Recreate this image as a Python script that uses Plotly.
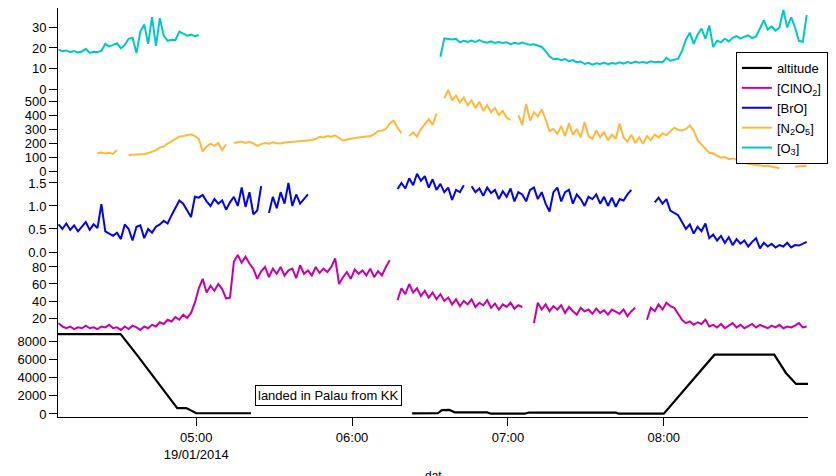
import pandas as pd
import plotly.graph_objects as go

# ---------------- data ----------------
DATE = "2014-01-19"
GRID_START = "2014-01-19 04:07:00"   # instrument samples every 90 s
GRID_STEP = "90s"

O3 = [
    19.2, 18.4, 18.8, 18.0, 18.5, 17.8, 18.3, 19.6, 17.6, 18.2,
    18.0, 18.6, 22.0, 20.8, 21.5, 22.3, 19.8, 21.5, 24.5, 25.0,
    17.5, 28.0, 31.5, 22.0, 35.0, 21.0, 34.5, 26.0, 23.5, 24.0,
    23.8, 28.0, 27.0, 26.0, 26.5, 25.8, 26.3, None, None, None,
    None, None, None, None, None, None, None, None, None, None,
    None, None, None, None, None, None, None, None, None, None,
    None, None, None, None, None, None, None, None, None, None,
    None, None, None, None, None, None, None, None, None, None,
    None, None, None, None, None, None, None, None, None, None,
    None, None, None, None, None, None, None, None, 15.7, 24.7,
    24.4, 24.1, 24.5, 22.8, 23.5, 23.0, 23.6, 22.9, 23.8, 23.0,
    22.6, 23.2, 22.5, 22.9, 22.4, 22.8, 21.9, 22.5, 22.1, 22.6,
    22.0, 21.6, 21.8, 21.2, 20.5, 18.5, 16.0, 14.5, 14.8, 14.0,
    14.6, 13.6, 14.1, 13.0, 13.4, 12.2, 12.8, 11.9, 12.5, 12.2,
    12.9, 12.1, 12.7, 12.3, 13.0, 12.4, 13.1, 12.6, 13.4, 12.8,
    13.2, 12.7, 13.5, 13.0, 13.3, 13.1, 15.2, 13.8, 14.2, 14.8,
    18.5, 24.0, 27.5, 22.0, 26.5, 29.5, 24.5, 31.0, 20.5, 23.5,
    22.8, 24.5, 23.2, 25.0, 25.8, 24.6, 25.5, 26.2, 24.8, 25.6,
    29.5, 33.5, 29.0, 30.5, 28.5, 30.0, 38.5, 30.0, 35.0, 30.0,
    23.5, 23.0, 36.0,
]

N2O5 = [
    None, None, None, None, None, None, None, None, None, None,
    128, 132, 125, 130, 122, 150, None, None, 114, 116,
    115, 118, 122, 128, 136, 148, 168, 175, 195, 210,
    230, 245, 250, 255, 262, 250, 230, 140, 175, 195,
    180, 200, 150, 190, None, 200, 205, 210, 200, 208,
    198, 180, 192, 200, 195, 205, 198, 196, 203, 205,
    210, 208, 215, 212, 218, 222, 230, 245, 240, 250,
    245, 255, 235, 218, 225, 232, 236, 240, 242, 245,
    250, 262, 285, 290, 300, 340, 360, 310, 270, None,
    250, 275, 245, 300, 335, 370, 330, 410, None, 520,
    580, 505, 540, 490, 525, 470, 505, 450, 495, 430,
    470, 420, 450, 400, 430, 380, 365, None, 400, 330,
    480, 360, 420, 390, 440, 370, 285, 300, 265, 320,
    250, 340, 260, 300, 240, 350, 250, 230, 290, 240,
    280, 220, 260, 230, 340, 240, 210, 260, 200, 240,
    195, 250, 220, 260, 240, 270, 255, 280, 310, 295,
    290, 300, 325, 290, 220, 190, 160, 130, 125, 110,
    95, 100, 85, 90, 80, 65, 60, 50, 48, 45,
    40, 35, 38, 32, 28, 20, None, None, None, 30,
    32, 35, 38,
]

BrO = [
    0.60, 0.50, 0.62, 0.48, 0.58, 0.45, 0.55, 0.65, 0.48, 0.60,
    0.52, 1.04, 0.45, 0.40, 0.35, 0.42, 0.28, 0.60, 0.50, 0.25,
    0.55, 0.58, 0.30, 0.50, 0.42, 0.55, 0.60, 0.68, 0.62, 0.80,
    0.95, 1.12, 1.05, 0.90, 0.76, 1.20, 1.18, 1.24, 1.10, 1.00,
    1.15, 1.05, 1.12, 0.92, 1.08, 1.20, 1.00, 1.40, 0.98, 1.30,
    0.82, 0.90, 1.43, None, 0.85, 1.20, 0.95, 1.30, 1.05, 1.50,
    1.00, 1.25, 1.05, 1.15, 1.25, None, None, None, None, None,
    None, None, None, None, None, None, None, None, None, None,
    None, None, None, None, None, None, None, 1.37, 1.50, 1.38,
    1.60, 1.45, 1.70, 1.55, 1.65, 1.40, 1.58, 1.35, 1.48, 1.30,
    1.40, 1.13, 1.35, 1.30, 1.45, None, 1.43, 1.30, 1.38, 1.22,
    1.40, 1.28, 1.35, 1.15, 1.32, 1.20, 1.38, 1.10, 1.30, 1.25,
    1.10, 1.35, 1.40, 1.15, 1.30, 1.05, 0.88, 1.30, 1.40, 1.10,
    1.30, 1.35, 1.05, 1.25, 1.15, 1.00, 1.20, 1.15, 1.25, 1.05,
    1.20, 1.00, 1.18, 0.98, 1.15, 1.12, 1.25, 1.35, None, None,
    None, None, None, 1.08, 1.18, 1.05, 1.15, 0.90, 0.85, 0.80,
    0.65, 0.50, 0.60, 0.40, 0.55, 0.45, 0.62, 0.30, 0.38, 0.25,
    0.35, 0.20, 0.32, 0.15, 0.28, 0.18, 0.25, 0.12, 0.22, 0.30,
    0.08, 0.20, 0.12, 0.18, 0.10, 0.15, 0.12, 0.20, 0.10, 0.15,
    0.14, 0.18, 0.22,
]

ClNO2 = [
    14, 10, 8, 10, 7, 9, 8, 11, 8, 9,
    7, 10, 9, 12, 8, 9, 6, 10, 7, 11,
    9, 6, 10, 8, 12, 10, 15, 13, 18, 16,
    21, 18, 24, 20, 26, 38, 55, 66, 50, 58,
    52, 60, 54, 43, 44, 86, 94, 85, 92, 84,
    78, 66, 75, 80, 68, 78, 72, 80, 70, 76,
    78, 67, 82, 72, 76, 70, 80, 73, 78, 74,
    80, 90, 60, 68, 74, 66, 77, 72, 76, 70,
    78, 68, 75, 70, 80, 88, None, 41, 55, 48,
    60, 50, 55, 46, 52, 44, 50, 42, 48, 40,
    44, 36, 42, 34, 40, 36, 42, 33, 38, 35,
    41, 32, 37, 30, 36, 33, 38, 31, 35, 33,
    None, None, 14, 38, 30, 36, 28, 34, 30, 35,
    26, 33, 28, 24, 32, 28, 30, 25, 31, 26,
    29, 24, 30, 27, 25, 30, 22, 28, 32, None,
    None, 18, 32, 28, 36, 30, 38, 34, 32, 25,
    18, 14, 16, 12, 15, 13, 18, 10, 12, 9,
    13, 8, 11, 14, 9, 12, 8, 11, 13, 9,
    12, 10, 8, 11, 9, 12, 8, 10, 9, 11,
    14, 9, 10,
]

# altitude (m) at given minutes after midnight
ALT_MIN = [246.8, 270.9, 277.4, 292.7, 296.2, 300.0, 321.1, 321.2,
           383.1, 393.0, 394.6, 397.5, 399.5, 412.0, 413.5, 426.5, 428.0,
           461.5, 462.5, 480.0, 499.5, 522.5, 527.0, 530.9, 535.5]
ALT_M = [8750, 8750, 6400, 650, 650, 80, 80, None,
         60, 80, 420, 450, 180, 170, 30, 30, 160,
         160, 40, 40, 6500, 6500, 4500, 3300, 3300]

X_RANGE = ["2014-01-19 04:06:48", "2014-01-19 08:55:30"]
X_TICKS = ["2014-01-19 05:00", "2014-01-19 06:00", "2014-01-19 07:00", "2014-01-19 08:00"]
X_TICKTEXT = ["05:00<br>19/01/2014", "06:00", "07:00", "08:00"]

NOTE_TIME = "2014-01-19 05:50:54"
NOTE_ALT = 2080

# ---------------- figure ----------------
t_grid = pd.date_range(GRID_START, periods=len(O3), freq=GRID_STEP)
t_alt = pd.Timestamp(DATE) + pd.to_timedelta(ALT_MIN, unit="min")

fig = go.Figure()
fig.add_trace(go.Scatter(x=t_alt, y=ALT_M, mode="lines", name="altitude",
                         line=dict(color="black", width=2.2), yaxis="y"))
fig.add_trace(go.Scatter(x=t_grid, y=ClNO2, mode="lines", name="[ClNO<sub>2</sub>]",
                         line=dict(color="#C800A8", width=2), yaxis="y2"))
fig.add_trace(go.Scatter(x=t_grid, y=BrO, mode="lines", name="[BrO]",
                         line=dict(color="#0000FF", width=2), yaxis="y3"))
fig.add_trace(go.Scatter(x=t_grid, y=N2O5, mode="lines", name="[N<sub>2</sub>O<sub>5</sub>]",
                         line=dict(color="#FFB83C", width=2), yaxis="y4"))
fig.add_trace(go.Scatter(x=t_grid, y=O3, mode="lines", name="[O<sub>3</sub>]",
                         line=dict(color="#00C8C8", width=2), yaxis="y5"))

def yax(domain, rng, dtick, fmt=None):
    d = dict(domain=domain, range=rng, dtick=dtick, tick0=0, anchor="x",
             showline=True, linecolor="black", linewidth=1,
             ticks="outside", ticklen=8, tickcolor="black", tickwidth=1,
             showgrid=False, zeroline=False, tickfont=dict(size=13))
    if fmt:
        d["tickformat"] = fmt
    return d

H = 409.0
def dom(top_px, bot_px):
    return [(417 - bot_px) / H, (417 - top_px) / H]

fig.update_layout(
    width=836, height=476,
    margin=dict(l=58, r=24, t=8, b=59),
    plot_bgcolor="white", paper_bgcolor="white",
    font=dict(family="Arial, Liberation Sans, sans-serif", size=13, color="black"),
    xaxis=dict(type="date", range=X_RANGE, tickvals=X_TICKS, ticktext=X_TICKTEXT,
               showline=True, linecolor="black", linewidth=1, anchor="y",
               ticks="outside", ticklen=8, tickcolor="black",
               showgrid=False, zeroline=False, tickfont=dict(size=13)),
    yaxis=yax(dom(333, 417), [-330, 8880], 2000),
    yaxis2=yax(dom(252, 333), [2.4, 97.6], 20),
    yaxis3=yax(dom(171, 252), [0, 1.76], 0.5, ".1f"),
    yaxis4=yax(dom(89, 171), [0, 586], 100),
    yaxis5=yax(dom(8, 89), [0, 39.5], 10),
    legend=dict(x=1.0265, xanchor="right", y=(417 - 52) / H, yanchor="top",
                bgcolor="white", bordercolor="black", borderwidth=1,
                font=dict(size=13), itemwidth=30, tracegroupgap=0),
    showlegend=True,
    annotations=[
        dict(x=NOTE_TIME, y=NOTE_ALT, xref="x", yref="y", text="landed in Palau from KK",
             showarrow=False, bgcolor="white", bordercolor="black", borderwidth=1,
             borderpad=2, font=dict(size=13)),
        dict(x=0.5, y=(417 - 467) / H, xref="paper", yref="paper", text="dat",
             showarrow=False, yanchor="top", font=dict(size=12)),
    ],
)

fig.write_html("out.html")
